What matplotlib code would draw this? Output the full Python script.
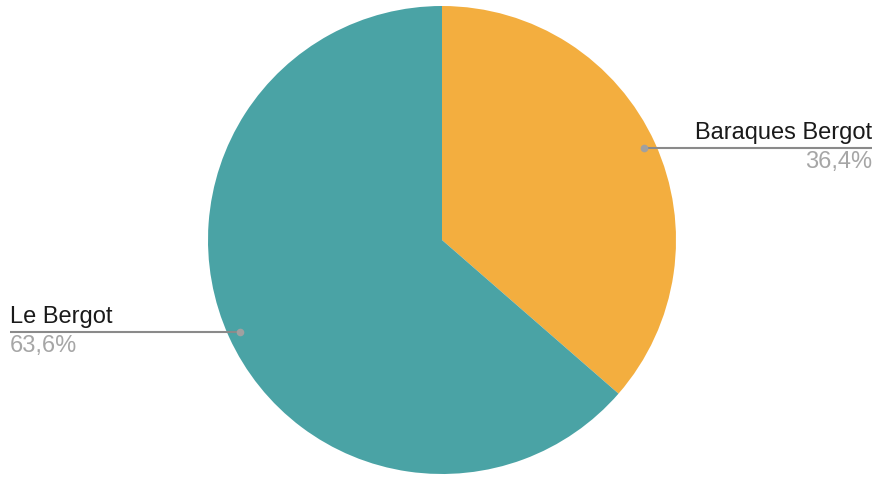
import numpy as np
import matplotlib
matplotlib.use("Agg")
import matplotlib.pyplot as plt

labels = ["Baraques Bergot", "Le Bergot"]
values = [36.4, 63.6]
pct_labels = ["36,4%", "63,6%"]
colors = ["#F3AE3F", "#4AA3A5"]

W, H = 888, 488
fig = plt.figure(figsize=(W / 100, H / 100), dpi=100)
ax = fig.add_axes([0, 0, 1, 1])
ax.set_xlim(0, W)
ax.set_ylim(0, H)
ax.set_aspect("equal")
ax.axis("off")

cx, cy, R = 442, H - 240, 234
wedges, _ = ax.pie(values, colors=colors, startangle=90, counterclock=False,
                   center=(cx, cy), radius=R, frame=True,
                   wedgeprops=dict(linewidth=0))
ax.set_xlim(0, W)
ax.set_ylim(0, H)
ax.axis("off")

font = "Liberation Sans"
total = sum(values)
start = 90.0
for lab, v, pl in zip(labels, values, pct_labels):
    ang = start - v / total * 360 / 2
    start -= v / total * 360
    a = np.deg2rad(ang)
    dx, dy = cx + 0.95 * R * np.cos(a), cy + 0.95 * R * np.sin(a)
    if np.cos(a) >= 0:
        x_end = W - 16
        ha = "right"
    else:
        x_end = 10
        ha = "left"
    ax.plot([dx, x_end], [dy, dy], color="#8a8a8a", lw=1.5, solid_capstyle="butt", zorder=3)
    ax.plot([dx], [dy], "o", color="#a0a0a0", ms=5.5, mec="none", zorder=4)
    ax.text(x_end, dy + 4, lab, ha=ha, va="bottom", fontsize=17, color="#1a1a1a", family=font)
    ax.text(x_end, dy - 3, pl, ha=ha, va="top", fontsize=17, color="#a6a6a6", family=font)

fig.savefig("out.png", dpi=100)
